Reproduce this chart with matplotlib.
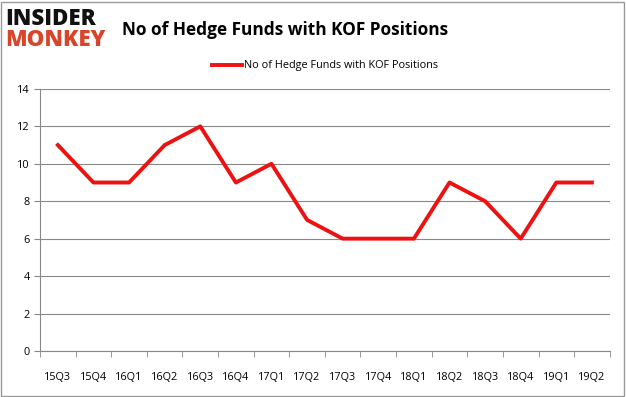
import matplotlib
matplotlib.use('Agg')
from matplotlib import pyplot as plt
import numpy as np

quarters = ['15Q3', '15Q4', '16Q1', '16Q2', '16Q3', '16Q4', '17Q1', '17Q2',
            '17Q3', '17Q4', '18Q1', '18Q2', '18Q3', '18Q4', '19Q1', '19Q2']
funds = [11, 9, 9, 11, 12, 9, 10, 7, 6, 6, 6, 9, 8, 6, 9, 9]
series_name = 'No of Hedge Funds with KOF Positions'

plt.rcParams['font.family'] = ['Open Sans', 'DejaVu Sans']

fig = plt.figure(figsize=(6.26, 3.97), dpi=100)
ax = fig.add_axes([0.064, 0.116, 0.91, 0.66])

x = np.arange(len(quarters))
ax.plot(x, funds, color='#ee1111', linewidth=2.8, label=series_name)

ax.set_xlim(-0.5, len(quarters) - 0.5)
ax.set_ylim(0, 14)
ax.set_yticks(range(0, 15, 2))
ax.set_xticks(x)
ax.set_xticklabels(quarters, fontsize=7.8)
ax.set_xticks(np.arange(-0.5, len(quarters), 1), minor=True)
ax.tick_params(axis='x', which='major', length=0, pad=15)
ax.tick_params(axis='x', which='minor', length=4, color='#888888')
ax.tick_params(axis='y', labelsize=7.8, length=4, color='#888888')
ax.grid(axis='y', color='#888888', linewidth=0.8)
ax.set_axisbelow(True)
for s in ['top', 'right']:
    ax.spines[s].set_visible(False)
ax.spines['left'].set_color('#888888')
ax.spines['bottom'].set_color('#888888')

ax.legend(loc='lower center', bbox_to_anchor=(0.5, 1.03), frameon=False,
          fontsize=7.8, handlelength=2.8, handletextpad=0.2)

fig.text(0.195, 0.925, 'No of Hedge Funds with KOF Positions', fontsize=12.4,
         fontweight='bold', va='center', ha='left')
fig.text(0.008, 0.953, 'INSIDER', fontsize=16, fontweight='heavy', color='#111111',
         va='center', ha='left')
fig.text(0.008, 0.898, 'MONKEY', fontsize=16, fontweight='heavy', color='#d9452b',
         va='center', ha='left')

fig.patches.append(plt.Rectangle((0.002, 0.003), 0.995, 0.993, transform=fig.transFigure,
                                 fill=False, edgecolor='#999999', linewidth=1))

fig.savefig('out.png', dpi=100)
